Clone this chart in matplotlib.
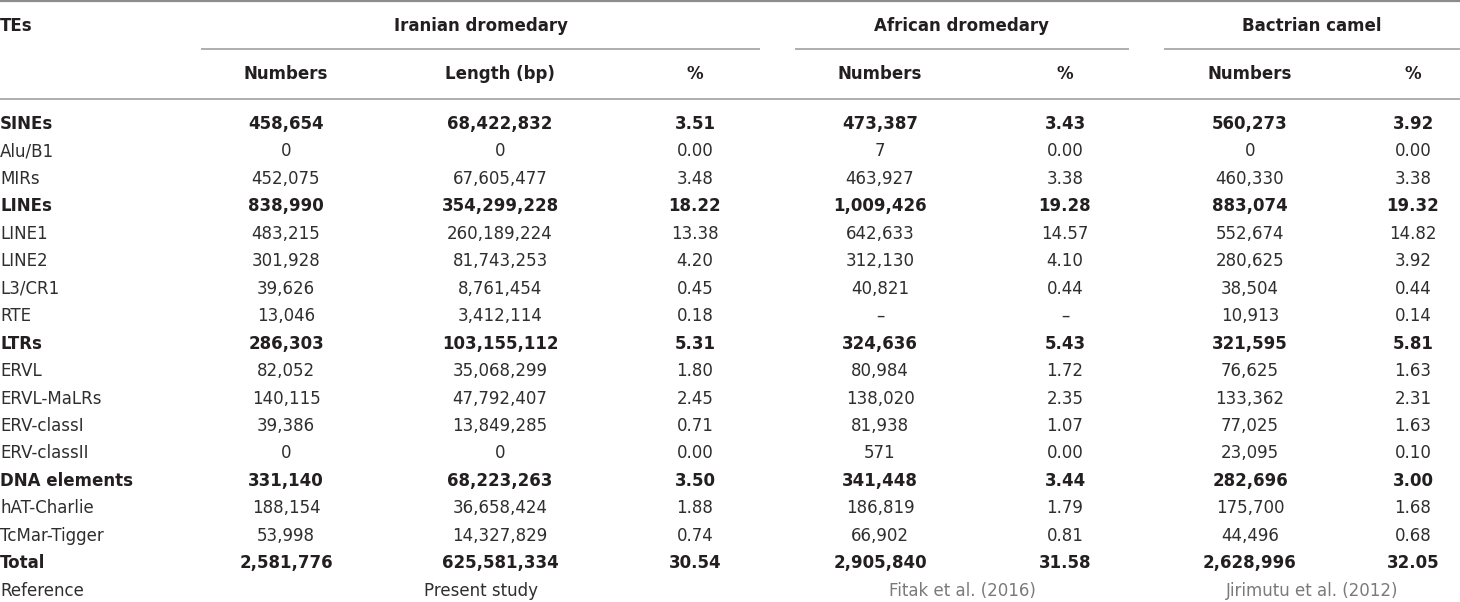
import matplotlib
matplotlib.use("Agg")
import matplotlib.pyplot as plt

# ---------------- data ----------------
te_names = ["SINEs", "Alu/B1", "MIRs", "LINEs", "LINE1", "LINE2", "L3/CR1", "RTE",
            "LTRs", "ERVL", "ERVL-MaLRs", "ERV-classI", "ERV-classII",
            "DNA elements", "hAT-Charlie", "TcMar-Tigger", "Total"]
bold_rows = ["SINEs", "LINEs", "LTRs", "DNA elements", "Total"]

iran_numbers = [458654, 0, 452075, 838990, 483215, 301928, 39626, 13046,
                286303, 82052, 140115, 39386, 0,
                331140, 188154, 53998, 2581776]
iran_length = [68422832, 0, 67605477, 354299228, 260189224, 81743253, 8761454, 3412114,
               103155112, 35068299, 47792407, 13849285, 0,
               68223263, 36658424, 14327829, 625581334]
iran_pct = [3.51, 0.00, 3.48, 18.22, 13.38, 4.20, 0.45, 0.18,
            5.31, 1.80, 2.45, 0.71, 0.00,
            3.50, 1.88, 0.74, 30.54]
africa_numbers = [473387, 7, 463927, 1009426, 642633, 312130, 40821, None,
                  324636, 80984, 138020, 81938, 571,
                  341448, 186819, 66902, 2905840]
africa_pct = [3.43, 0.00, 3.38, 19.28, 14.57, 4.10, 0.44, None,
              5.43, 1.72, 2.35, 1.07, 0.00,
              3.44, 1.79, 0.81, 31.58]
bactrian_numbers = [560273, 0, 460330, 883074, 552674, 280625, 38504, 10913,
                    321595, 76625, 133362, 77025, 23095,
                    282696, 175700, 44496, 2628996]
bactrian_pct = [3.92, 0.00, 3.38, 19.32, 14.82, 3.92, 0.44, 0.14,
                5.81, 1.63, 2.31, 1.63, 0.10,
                3.00, 1.68, 0.68, 32.05]

group_labels = ["Iranian dromedary", "African dromedary", "Bactrian camel"]
sub_labels = ["Numbers", "Length (bp)", "%", "Numbers", "%", "Numbers", "%"]
reference_labels = ["Present study", "Fitak et al. (2016)", "Jirimutu et al. (2012)"]

# ---------------- layout ----------------
W, H = 1460, 602
fig = plt.figure(figsize=(W / 100, H / 100), dpi=100)
ax = fig.add_axes([0, 0, 1, 1])
ax.set_xlim(0, W)
ax.set_ylim(H, 0)
ax.axis("off")

FONT = ["DejaVu Sans"]
FS = 12.0
DARK = "#231f20"
REG = "#2e2e2e"
GREY = "#7a7a7a"
LINE = "#a8a8a8"

col_x = [286, 500, 695, 880, 1065, 1250, 1413]
group_spans = [(201, 760), (795, 1129), (1164, 1460)]
y_group = 26
y_sub = 74
y_first = 124
row_h = 27.45


def fmt_int(v):
    return "\u2013" if v is None else f"{v:,}"


def fmt_pct(v):
    return "\u2013" if v is None else f"{v:.2f}"


# horizontal rules
ax.plot([0, W], [1, 1], color="#8c8c8c", lw=1.6, solid_capstyle="butt")
for x0, x1 in group_spans:
    ax.plot([x0, x1], [49, 49], color=LINE, lw=1.3, solid_capstyle="butt")
ax.plot([0, W], [99, 99], color=LINE, lw=1.3, solid_capstyle="butt")

# header
ax.text(0, y_group, "TEs", ha="left", va="center", fontsize=FS, fontweight="bold",
        color=DARK, family=FONT)
for (x0, x1), lab in zip(group_spans, group_labels):
    ax.text((x0 + x1) / 2, y_group, lab, ha="center", va="center", fontsize=FS,
            fontweight="bold", color=DARK, family=FONT)
for x, lab in zip(col_x, sub_labels):
    ax.text(x, y_sub, lab, ha="center", va="center", fontsize=FS,
            fontweight="bold", color=DARK, family=FONT)

# body
columns = [
    [fmt_int(v) for v in iran_numbers],
    [fmt_int(v) for v in iran_length],
    [fmt_pct(v) for v in iran_pct],
    [fmt_int(v) for v in africa_numbers],
    [fmt_pct(v) for v in africa_pct],
    [fmt_int(v) for v in bactrian_numbers],
    [fmt_pct(v) for v in bactrian_pct],
]
for i, name in enumerate(te_names):
    y = y_first + i * row_h
    bold = name in bold_rows
    weight = "bold" if bold else "normal"
    color = DARK if bold else REG
    ax.text(0, y, name, ha="left", va="center", fontsize=FS, fontweight=weight,
            color=color, family=FONT)
    for x, col in zip(col_x, columns):
        ax.text(x, y, col[i], ha="center", va="center", fontsize=FS,
                fontweight=weight, color=color, family=FONT)

# reference row
y_ref = y_first + len(te_names) * row_h
ax.text(0, y_ref, "Reference", ha="left", va="center", fontsize=FS, color=REG, family=FONT)
ref_colors = [REG, GREY, GREY]
for (x0, x1), lab, c in zip(group_spans, reference_labels, ref_colors):
    ax.text((x0 + x1) / 2, y_ref, lab, ha="center", va="center", fontsize=FS,
            color=c, family=FONT)

fig.savefig("out.png", dpi=100, facecolor="white")
